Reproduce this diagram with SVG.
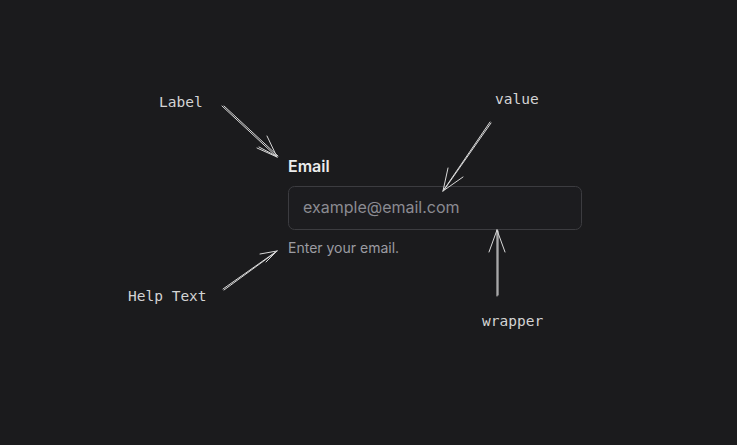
<svg xmlns="http://www.w3.org/2000/svg" width="737" height="445" viewBox="0 0 737 445">
<style>
.bg{fill:#1b1b1d}
.anno{font-family:"DejaVu Sans Mono","Liberation Mono",monospace;font-size:14.5px;fill:#d4d4d4}
.ui{font-family:Inter,"Liberation Sans",sans-serif}
.sk{fill:none;stroke:#d8d8d8;stroke-width:1;stroke-linecap:round;stroke-linejoin:round}
</style>
<rect class="bg" width="737" height="445"/>
<g id="field">
  <text class="ui" x="288" y="172" font-size="16" font-weight="600" fill="#ececec">Email</text>
  <rect x="288.5" y="186.5" width="293" height="43" rx="6" fill="#1c1c1f" stroke="#3c3c40"/>
  <text class="ui" x="303" y="213" font-size="16" fill="#8b8b92">example@email.com</text>
  <text class="ui" x="288" y="253" font-size="14" fill="#9c9ca2">Enter your email.</text>
</g>
<g id="label-note"><text class="anno" x="159" y="107">Label</text></g>
<g id="value-note"><text class="anno" x="495" y="104">value</text></g>
<g id="help-note"><text class="anno" x="128" y="301">Help Text</text></g>
<g id="wrapper-note"><text class="anno" x="482" y="326">wrapper</text></g>
<g id="connectors">
  <path class="sk" d="M222 106 L277 157 M224 106 L278 156 M277 157 L257 148 M277 157 L267 136 M276 156 L259 147"/>
  <path class="sk" d="M490 122 L443 191 M491 123 L444 190 M443 191 L448 168 M443 191 L463 177"/>
  <path class="sk" d="M223 289 L277 251 M224 290 L276 252 M277 251 L260 254 M277 251 L266 262"/>
  <path class="sk" d="M497 296 L497 230 M498 295 L498 231 M497 230 L489 252 M497 230 L505 252"/>
</g>
</svg>
